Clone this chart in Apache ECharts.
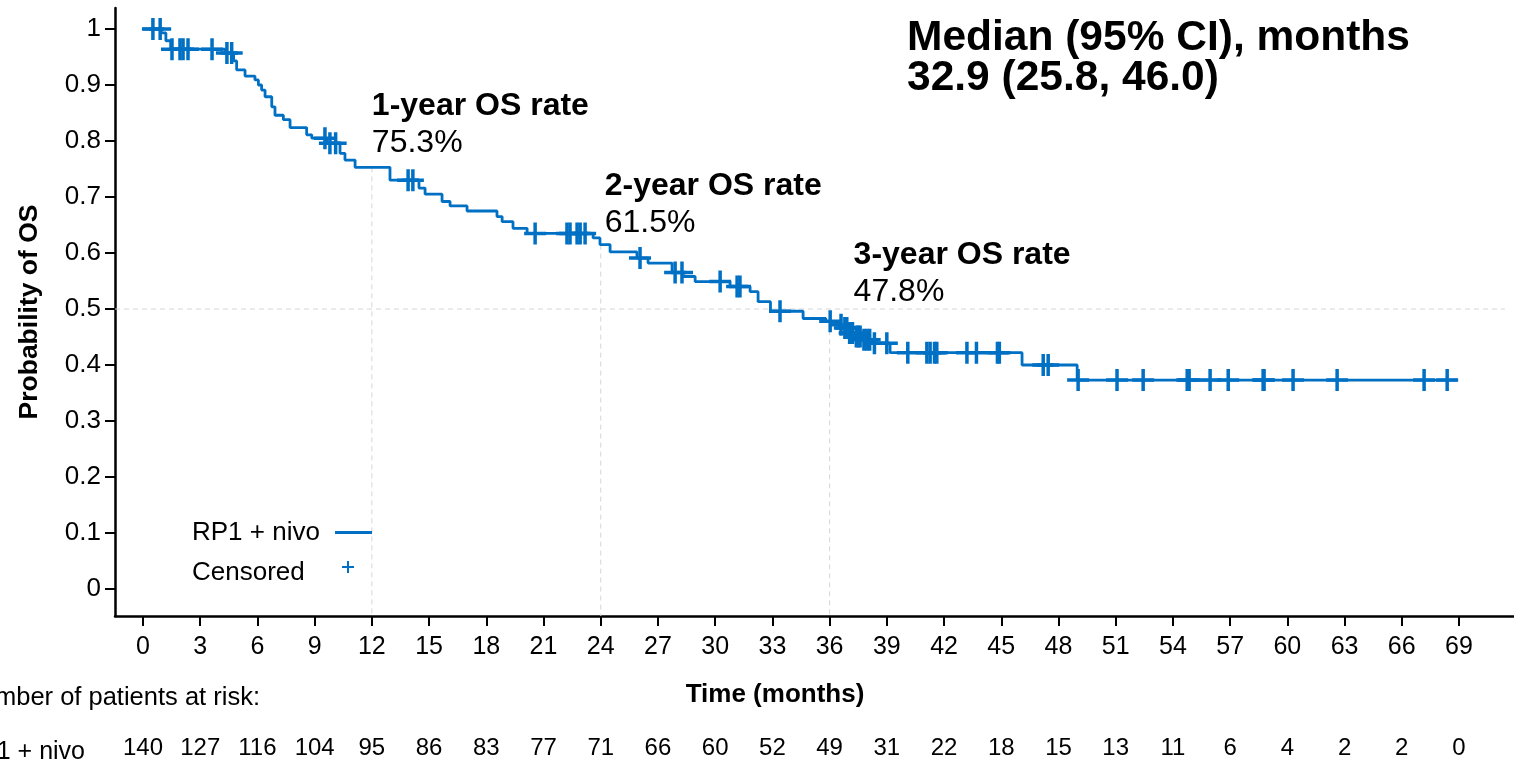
<!DOCTYPE html>
<html>
<head>
<meta charset="utf-8">
<title>Overall survival – RP1 + nivo</title>
<script src="https://cdn.jsdelivr.net/npm/echarts@6/dist/echarts.min.js"></script>
<style>
  html, body { margin: 0; padding: 0; background: #ffffff; }
  #chart { width: 1514px; height: 760px; }
</style>
</head>
<body>
<div id="chart"></div>
<script>
// Kaplan–Meier step curve: event times (months) and survival after each step
const stepTimes = [0, 0.95, 1.2, 1.45, 4.3, 4.75, 4.91, 5.35, 5.87, 6.05, 6.22, 6.4, 6.75, 6.92,
  7.36, 7.71, 8.58, 8.85, 9.63, 10.33, 10.59, 11.12, 12.95, 14.47, 14.79, 15.68, 16.1, 16.99,
  18.56, 18.83, 19.4, 20.14, 23.6, 23.96, 24.49, 25.9, 26.48, 27.74, 28.32, 28.95, 30.78,
  31.83, 32.25, 32.9, 34.61, 35.8, 36.45, 36.71, 36.97, 37.34, 37.7, 38.28, 39.17, 46.09,
  48.98, 68.9];
const survival = [1.0, 0.993, 0.979, 0.964, 0.957, 0.943, 0.927, 0.916, 0.909, 0.900, 0.891,
  0.879, 0.861, 0.846, 0.838, 0.824, 0.811, 0.805, 0.796, 0.778, 0.766, 0.753, 0.730, 0.716,
  0.705, 0.692, 0.684, 0.675, 0.665, 0.656, 0.644, 0.635, 0.627, 0.615, 0.602, 0.591, 0.582,
  0.565, 0.558, 0.549, 0.540, 0.531, 0.513, 0.496, 0.483, 0.478, 0.472, 0.466, 0.457, 0.451,
  0.445, 0.439, 0.422, 0.400, 0.373, 0.373];

// Censoring times (months)
const censorTimes = [0.52, 0.9, 1.52, 1.94, 2.1, 2.36, 3.62, 4.4, 4.65, 9.54, 9.8, 10.1, 13.9,
  14.15, 20.56, 22.23, 22.39, 22.76, 22.92, 23.18, 26.06, 27.9, 28.26, 30.26, 31.15, 31.3,
  33.4, 36.03, 36.6, 36.8, 36.9, 37.05, 37.2, 37.4, 37.5, 37.6, 37.8, 37.95, 38.1, 38.35,
  39.0, 40.1, 41.1, 41.27, 41.5, 41.62, 43.2, 43.7, 44.8, 44.9, 47.2, 47.46, 49.03, 51.07,
  52.44, 54.75, 54.85, 55.95, 56.9, 58.73, 58.78, 60.3, 62.61, 67.17, 68.38];

// Landmark OS rates
const landmarkMonths = [12, 24, 36];
const landmarkRates = [0.753, 0.615, 0.478];
const landmarkNames = ['1-year OS rate', '2-year OS rate', '3-year OS rate'];

// Median OS summary
const medianText = ['Median (95% CI), months', '32.9 (25.8, 46.0)'];

// Axis ticks
const xTickValues = [0, 3, 6, 9, 12, 15, 18, 21, 24, 27, 30, 33, 36, 39, 42, 45, 48, 51, 54, 57, 60, 63, 66, 69];
const yTickValues = [0, 0.1, 0.2, 0.3, 0.4, 0.5, 0.6, 0.7, 0.8, 0.9, 1];

// Number at risk
const riskGroup = 'RP1 + nivo';
const riskTimes = [0, 3, 6, 9, 12, 15, 18, 21, 24, 27, 30, 33, 36, 39, 42, 45, 48, 51, 54, 57, 60, 63, 66, 69];
const riskCounts = [140, 127, 116, 104, 95, 86, 83, 77, 71, 66, 60, 52, 49, 31, 22, 18, 15, 13, 11, 6, 4, 2, 2, 0];

// ---------------------------------------------------------------------------
const FONT = "'Liberation Sans', Arial, Helvetica, sans-serif";
const BLUE = '#0070C4';
const PLUS = 'path://M9.25,0H12.75V9.25H22V12.75H12.75V22H9.25V12.75H0V9.25H9.25Z';
const PLUS_SMALL = 'path://M5,0H7V5H12V7H7V12H5V7H0V5H5Z';

// axis ranges extend a little past the tick range, as the axis lines do
const X_RANGE = [-1.468, 71.884];
const Y_RANGE = [-0.0482, 1.0375];

function survivalAt(t) {
  let s = survival[0];
  for (let i = 0; i < stepTimes.length; i++) {
    if (stepTimes[i] <= t) s = survival[i]; else break;
  }
  return s;
}

const curveData = stepTimes.map((t, i) => [t, survival[i]]);
const censorData = censorTimes.map(t => [t, survivalAt(t)]);

const dashed = { color: '#d6d6d6', width: 1, type: [5, 4] };
const refSeries = [{
  type: 'line', silent: true, symbol: 'none', z: 1, lineStyle: dashed,
  data: [[X_RANGE[0], 0.5], [71.4, 0.5]]
}];
landmarkMonths.forEach((m, i) => {
  refSeries.push({
    type: 'line', silent: true, symbol: 'none', z: 1, lineStyle: dashed,
    data: [[m, landmarkRates[i]], [m, Y_RANGE[0]]]
  });
});

// label placement relative to each landmark point
const labelShift = [[0, -6], [4, -3], [24, -11]];
const annotationData = landmarkMonths.map((m, i) => ({
  value: [m, landmarkRates[i]],
  name: landmarkNames[i],
  label: { position: labelShift[i] }
}));

const tickLabelFmt = v => (Math.abs(v) < 1e-9 ? '0' : Math.abs(v - 1) < 1e-9 ? '1' : v.toFixed(1));
const legendText = { fontFamily: FONT, fontSize: 26, fontWeight: 'normal', color: '#000' };

const option = {
  animation: false,
  backgroundColor: '#ffffff',
  textStyle: { fontFamily: FONT, color: '#000' },
  title: [
    {
      text: medianText.join('\n'),
      left: 902, top: 13,
      textStyle: { fontFamily: FONT, fontSize: 42.5, fontWeight: 'bold', color: '#000', lineHeight: 40 }
    },
    {
      text: 'Time (months)',
      left: 770, top: 677, textAlign: 'center',
      textStyle: { fontFamily: FONT, fontSize: 26, fontWeight: 'bold', color: '#000' }
    },
    {
      text: 'Number of patients at risk:',
      left: 255, top: 680, textAlign: 'right',
      textStyle: { fontFamily: FONT, fontSize: 25.5, fontWeight: 'normal', color: '#000' }
    },
    {
      text: riskGroup,
      left: 80, top: 735, textAlign: 'right',
      textStyle: { fontFamily: FONT, fontSize: 25, fontWeight: 'normal', color: '#000' }
    },
    // legend captions, laid out as a two-column key with the symbols beside them
    { text: 'RP1 + nivo', left: 192, top: 520, padding: 0, textStyle: legendText },
    { text: 'Censored', left: 192, top: 560, padding: 0, textStyle: legendText }
  ],
  legend: [
    {
      data: ['RP1 + nivo'], left: 335, top: 531, padding: 0, selectedMode: false,
      icon: 'rect', itemWidth: 37, itemHeight: 3, formatter: () => '',
      itemStyle: { color: BLUE }
    },
    {
      data: ['Censored'], left: 342, top: 561, padding: 0, selectedMode: false,
      icon: PLUS_SMALL, itemWidth: 12, itemHeight: 12, formatter: () => '',
      itemStyle: { color: BLUE, opacity: 1 }
    }
  ],
  grid: [
    // plotting area bounded by the axis lines
    { left: 115, right: 0, top: 8, bottom: 144 },
    // number-at-risk row
    { left: 143, right: 55, top: 737, height: 36 }
  ],
  xAxis: [
    {
      gridIndex: 0, type: 'value', min: X_RANGE[0], max: X_RANGE[1],
      axisLine: { show: true, onZero: false, lineStyle: { color: '#000', width: 2.5 } },
      axisTick: { show: true, length: 10, customValues: xTickValues, lineStyle: { color: '#000', width: 2 } },
      axisLabel: { show: true, customValues: xTickValues, fontFamily: FONT, fontSize: 25, color: '#000', margin: 19 },
      splitLine: { show: false }
    },
    { gridIndex: 1, type: 'value', min: 0, max: 69, show: false }
  ],
  yAxis: [
    {
      gridIndex: 0, type: 'value', min: Y_RANGE[0], max: Y_RANGE[1],
      axisLine: { show: true, onZero: false, lineStyle: { color: '#000', width: 2.5 } },
      axisTick: { show: false }, axisLabel: { show: false },
      splitLine: { show: false },
      name: 'Probability of OS', nameLocation: 'middle', nameGap: 72, nameRotate: 90,
      nameTextStyle: { fontFamily: FONT, fontSize: 26.5, fontWeight: 'bold', color: '#000' }
    },
    {
      gridIndex: 1, type: 'category', data: [riskGroup], show: false
    }
  ],
  series: [
    ...refSeries,
    // short outward tick marks on the probability axis, placed on the axis line
    {
      type: 'scatter', silent: true, z: 6, clip: false,
      symbol: 'rect', symbolSize: [10, 2], symbolOffset: [-5, 0],
      itemStyle: { color: '#000', opacity: 1 },
      data: yTickValues.map(v => [X_RANGE[0], v]),
      label: {
        show: true, position: 'left', distance: 4, fontFamily: FONT, fontSize: 26, color: '#000',
        formatter: p => tickLabelFmt(p.value[1])
      }
    },
    {
      name: 'RP1 + nivo', type: 'line', step: 'end',
      symbol: 'none', data: curveData, z: 3,
      lineStyle: { color: BLUE, width: 2.8 }, itemStyle: { color: BLUE }
    },
    {
      name: 'Censored', type: 'scatter',
      symbol: PLUS, symbolSize: 22, data: censorData, z: 4,
      itemStyle: { color: BLUE, opacity: 1 }
    },
    {
      type: 'scatter', symbolSize: 0, silent: true, z: 5,
      data: annotationData,
      itemStyle: { opacity: 1 },
      label: {
        show: true, align: 'left', verticalAlign: 'bottom', color: '#000', opacity: 1,
        formatter: p => '{h|' + p.name + '}\n{v|' + (p.value[1] * 100).toFixed(1) + '%}',
        rich: {
          h: { fontFamily: FONT, fontSize: 32, fontWeight: 'bold', color: '#000', lineHeight: 37 },
          v: { fontFamily: FONT, fontSize: 32, color: '#000', lineHeight: 37 }
        }
      }
    },
    {
      type: 'scatter', xAxisIndex: 1, yAxisIndex: 1, symbolSize: 0, silent: true,
      data: riskTimes.map((t, i) => [t, riskGroup, riskCounts[i]]),
      encode: { x: 0, y: 1 },
      itemStyle: { opacity: 1 },
      label: {
        show: true, position: 'inside', fontFamily: FONT, fontSize: 24, color: '#000', opacity: 1,
        formatter: p => String(p.value[2])
      }
    }
  ]
};

const chart = echarts.init(document.getElementById('chart'), null, { renderer: 'canvas' });
chart.setOption(option);
</script>
</body>
</html>
